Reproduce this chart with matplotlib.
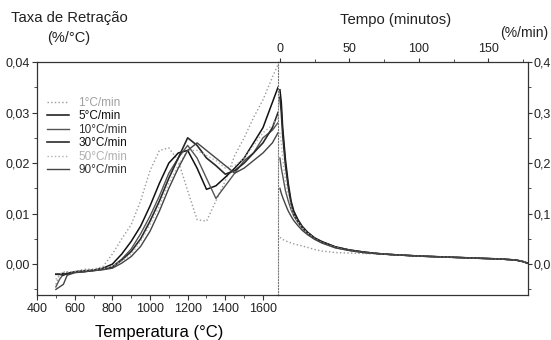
import matplotlib
matplotlib.use("Agg")
from matplotlib import pyplot as plt
from matplotlib.ticker import MultipleLocator, FuncFormatter

plt.rcParams['font.family'] = ['Liberation Sans', 'DejaVu Sans']

# heating stage: temperature (C) vs shrinkage rate (%/C)
temp = [500, 520, 540, 560, 600, 650, 700, 750, 800, 850, 900, 950, 1000, 1050,
        1100, 1150, 1200, 1250, 1300, 1350, 1400, 1450, 1500, 1550, 1600, 1650, 1680]
rate_1 = [-0.004, -0.002, -0.002, -0.0015, -0.0015, -0.001, -0.001, -0.0005, 0.002,
          0.005, 0.0078, 0.0125, 0.0185, 0.0225, 0.023, 0.0205, 0.0145, 0.0088, 0.0085,
          0.0125, 0.0165, 0.0215, 0.025, 0.029, 0.0325, 0.037, 0.0395]
rate_5 = [-0.002, -0.002, -0.0018, -0.002, -0.0015, -0.0013, -0.0012, -0.0008, 0.0,
          0.002, 0.0045, 0.0075, 0.0115, 0.016, 0.02, 0.022, 0.0225, 0.019, 0.0148,
          0.0155, 0.0172, 0.019, 0.021, 0.024, 0.027, 0.032, 0.035]
rate_10 = [-0.0045, -0.003, -0.002, -0.0018, -0.0016, -0.0014, -0.0013, -0.001, -0.0005,
           0.001, 0.003, 0.006, 0.0095, 0.0135, 0.018, 0.021, 0.0235, 0.021, 0.017,
           0.013, 0.0155, 0.018, 0.0205, 0.022, 0.025, 0.0265, 0.028]
rate_30 = [-0.002, -0.002, -0.0022, -0.0018, -0.0016, -0.0015, -0.0012, -0.001, -0.0006,
           0.0008, 0.0025, 0.005, 0.0085, 0.0125, 0.017, 0.021, 0.025, 0.0235, 0.021,
           0.0195, 0.0178, 0.0185, 0.020, 0.022, 0.024, 0.027, 0.030]
rate_50 = [-0.003, -0.002, -0.0015, -0.0016, -0.0014, -0.0013, -0.0011, -0.0009, -0.0004,
           0.0006, 0.002, 0.0045, 0.0078, 0.0115, 0.016, 0.0195, 0.0225, 0.0225, 0.0215,
           0.0205, 0.019, 0.0195, 0.021, 0.0235, 0.026, 0.0275, 0.029]
rate_90 = [-0.005, -0.0045, -0.004, -0.0022, -0.0017, -0.0015, -0.0013, -0.0011, -0.0008,
           0.0002, 0.0015, 0.0035, 0.0065, 0.0105, 0.015, 0.019, 0.0225, 0.024, 0.0225,
           0.021, 0.0195, 0.018, 0.019, 0.0205, 0.022, 0.024, 0.026]

# dwell stage: time (min) vs shrinkage rate (%/min)
time = [0, 1, 2, 4, 6, 8, 10, 13, 16, 20, 25, 30, 40, 50, 60, 70, 80, 100, 120,
        140, 160, 170, 175, 178]
hold_1 = [0.053, 0.051, 0.049, 0.046, 0.044, 0.042, 0.040, 0.038, 0.036, 0.033, 0.029,
          0.026, 0.023, 0.022, 0.021, 0.020, 0.019, 0.016, 0.014, 0.012, 0.010, 0.008,
          0.005, 0.002]
hold_5 = [0.345, 0.32, 0.27, 0.206, 0.16, 0.125, 0.105, 0.088, 0.075, 0.063, 0.052,
          0.045, 0.034, 0.028, 0.024, 0.021, 0.019, 0.016, 0.014, 0.012, 0.010, 0.008,
          0.005, 0.002]
hold_10 = [0.21, 0.19, 0.175, 0.145, 0.125, 0.108, 0.095, 0.082, 0.071, 0.060, 0.050,
           0.043, 0.033, 0.027, 0.023, 0.021, 0.019, 0.016, 0.014, 0.012, 0.010, 0.008,
           0.005, 0.002]
hold_30 = [0.33, 0.30, 0.255, 0.195, 0.152, 0.12, 0.10, 0.085, 0.073, 0.062, 0.051,
           0.044, 0.034, 0.028, 0.024, 0.021, 0.019, 0.016, 0.014, 0.012, 0.010, 0.008,
           0.005, 0.002]
hold_50 = [0.26, 0.24, 0.21, 0.165, 0.135, 0.112, 0.097, 0.083, 0.072, 0.061, 0.050,
           0.043, 0.033, 0.027, 0.023, 0.021, 0.019, 0.016, 0.014, 0.012, 0.010, 0.008,
           0.005, 0.002]
hold_90 = [0.15, 0.14, 0.132, 0.118, 0.105, 0.095, 0.086, 0.076, 0.067, 0.058, 0.049,
           0.042, 0.032, 0.027, 0.023, 0.021, 0.019, 0.016, 0.014, 0.012, 0.010, 0.008,
           0.005, 0.002]

labels = ['1°C/min', '5°C/min', '10°C/min', '30°C/min', '50°C/min', '90°C/min']
heat = [rate_1, rate_5, rate_10, rate_30, rate_50, rate_90]
hold = [hold_1, hold_5, hold_10, hold_30, hold_50, hold_90]
colors = ['#9a9a9a', '#111111', '#555555', '#2a2a2a', '#b0b0b0', '#444444']
styles = [':', '-', '-', '-', ':', '-']
widths = [1.0, 1.1, 1.0, 1.2, 1.0, 1.0]
text_colors = ['#a0a0a0', '#111111', '#333333', '#111111', '#b0b0b0', '#333333']

fig = plt.figure(figsize=(5.51, 3.40), dpi=100)
ax1 = fig.add_axes([0.0672, 0.1324, 0.4374, 0.6853])
ax2 = fig.add_axes([0.5045, 0.1324, 0.4537, 0.6853])

for i in range(len(labels)):
    ax1.plot(temp, heat[i], ls=styles[i], color=colors[i], lw=widths[i], label=labels[i])
    ax2.plot(time, hold[i], ls=styles[i], color=colors[i], lw=widths[i])

comma = FuncFormatter(lambda v, p: ('%.2f' % v).replace('.', ','))
comma1 = FuncFormatter(lambda v, p: ('%.1f' % v).replace('.', ','))

# left panel: temperature
ax1.set_xlim(400, 1680)
ax1.set_ylim(-0.0061, 0.04)
ax1.xaxis.set_major_locator(MultipleLocator(200))
ax1.xaxis.set_minor_locator(MultipleLocator(100))
ax1.yaxis.set_major_locator(MultipleLocator(0.01))
ax1.yaxis.set_minor_locator(MultipleLocator(0.005))
ax1.yaxis.set_major_formatter(comma)
ax1.spines['right'].set_visible(False)
ax1.tick_params(which='both', direction='out', labelsize=9, pad=2)
ax1.tick_params(which='major', length=3.5)
ax1.tick_params(which='minor', length=2)
ax1.set_xlabel('Temperatura (°C)', fontsize=12, labelpad=0)
ax1.xaxis.set_label_coords(0.507, -0.13)

# right panel: dwell time
ax2.set_xlim(-1.4, 178.4)
ax2.set_ylim(-0.061, 0.4)
ax2.xaxis.set_major_locator(MultipleLocator(50))
ax2.xaxis.set_minor_locator(MultipleLocator(25))
ax2.yaxis.set_major_locator(MultipleLocator(0.1))
ax2.yaxis.set_minor_locator(MultipleLocator(0.05))
ax2.yaxis.set_major_formatter(comma1)
ax2.xaxis.tick_top()
ax2.yaxis.tick_right()
ax2.spines['left'].set_linestyle(':')
ax2.spines['left'].set_color('#777777')
ax2.tick_params(which='both', direction='out', labelsize=9, pad=2)
ax2.tick_params(axis='y', which='both', pad=1)
ax2.tick_params(which='major', length=3)
ax2.tick_params(which='minor', length=2)

for s in ('top', 'bottom', 'left'):
    ax1.spines[s].set_color('#333333')
    ax1.spines[s].set_linewidth(0.9)
for s in ('top', 'bottom', 'right'):
    ax2.spines[s].set_color('#333333')
    ax2.spines[s].set_linewidth(0.9)
for ax in (ax1, ax2):
    ax.tick_params(which='both', colors='#333333', labelcolor='#222222')

leg = ax1.legend(loc='upper left', bbox_to_anchor=(0.02, 0.87), frameon=False,
                 fontsize=8.5, handlelength=1.9, handletextpad=0.8,
                 labelspacing=0.12, borderaxespad=0.0)
for t, c in zip(leg.get_texts(), text_colors):
    t.set_color(c)

fig.text(0.02, 0.947, 'Taxa de Retração', fontsize=10.7, va='center', ha='left', color='#222222')
fig.text(0.124, 0.888, '(%/°C)', fontsize=10.5, va='center', ha='center', color='#222222')
fig.text(0.718, 0.941, 'Tempo (minutos)', fontsize=10.7, va='center', ha='center', color='#222222')
fig.text(0.908, 0.903, '(%/min)', fontsize=10, va='center', ha='left', color='#222222')

fig.savefig('out.png', dpi=100)
